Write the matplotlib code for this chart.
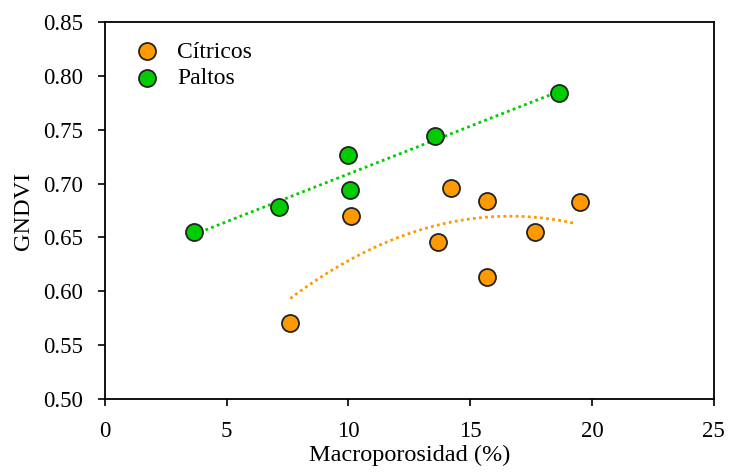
import numpy as np
import matplotlib
matplotlib.use("Agg")
import matplotlib.pyplot as plt

plt.rcParams['font.family'] = ['Liberation Serif', 'DejaVu Serif']

citricos_x = [7.61, 10.12, 13.69, 14.23, 15.67, 15.67, 17.68, 19.49]
citricos_y = [0.5705, 0.670, 0.646, 0.696, 0.6135, 0.684, 0.655, 0.683]
paltos_x = [3.66, 7.15, 9.99, 10.07, 13.57, 18.63]
paltos_y = [0.655, 0.678, 0.7265, 0.694, 0.744, 0.784]

orange = '#FF9900'
green = '#00CC00'

fig = plt.figure(figsize=(7.29, 4.72), dpi=100)
ax = fig.add_axes([0.144, 0.1547, 0.835, 0.7983])

# trend lines
pc = np.polyfit(citricos_x, citricos_y, 2)
xc = np.linspace(min(citricos_x), max(citricos_x) - 0.2, 100)
ax.plot(xc, np.polyval(pc, xc), linestyle=(0, (1, 1.2)), color=orange, lw=2, zorder=1)
pp = np.polyfit(paltos_x, paltos_y, 1)
xp = np.linspace(min(paltos_x), max(paltos_x), 100)
ax.plot(xp, np.polyval(pp, xp), linestyle=(0, (1, 1.2)), color=green, lw=2, zorder=1)

ax.scatter(citricos_x, citricos_y, s=150, color=orange, edgecolor='#222222', linewidth=1.3, zorder=3, label='Cítricos')
ax.scatter(paltos_x, paltos_y, s=150, color=green, edgecolor='#222222', linewidth=1.3, zorder=3, label='Paltos')

ax.set_xlim(0, 25)
ax.set_ylim(0.50, 0.85)
ax.set_xticks([0, 5, 10, 15, 20, 25])
ax.set_yticks(np.arange(0.50, 0.851, 0.05))
ax.set_yticklabels([f'{v:.2f}' for v in np.arange(0.50, 0.851, 0.05)])
ax.tick_params(direction='out', length=5, width=1.2, labelsize=16.5, colors='black')
ax.tick_params(axis='x', pad=10.5)
ax.tick_params(axis='y', pad=11)
for sp in ax.spines.values():
    sp.set_linewidth(1.3)
ax.set_xlabel('Macroporosidad (%)', fontsize=17.5, labelpad=2.5)
ax.set_ylabel('GNDVI', fontsize=17.5, labelpad=6.5)

leg = ax.legend(loc='upper left', frameon=False, fontsize=17, handletextpad=0.25,
                labelspacing=0.22, borderaxespad=0.4, bbox_to_anchor=(0.0, 1.0))

fig.savefig('out.png', dpi=100)
